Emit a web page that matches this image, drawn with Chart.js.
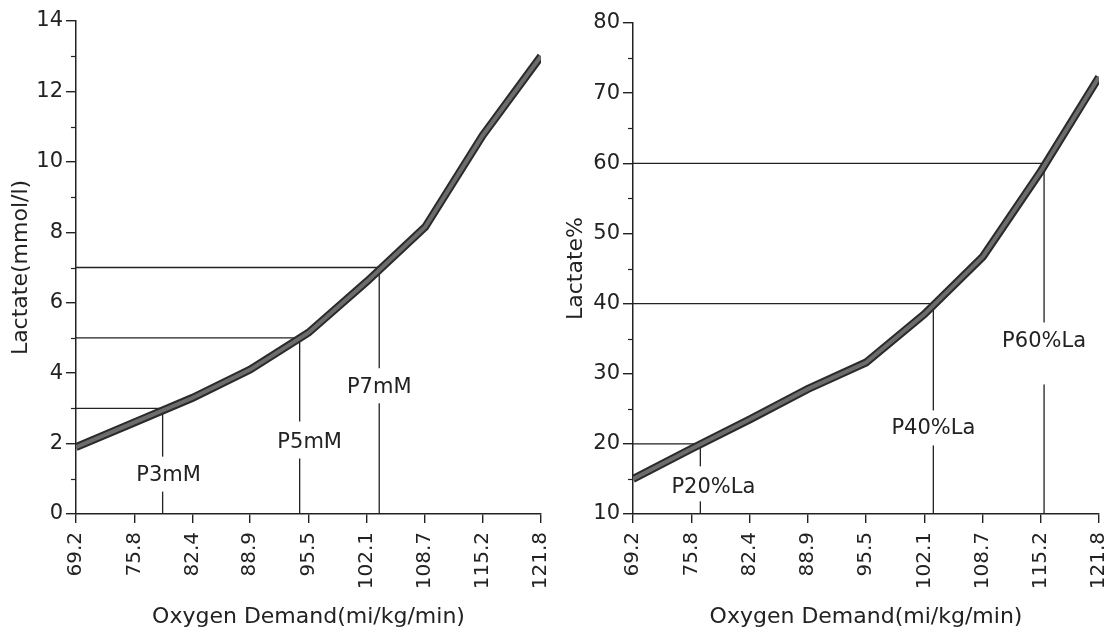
<!DOCTYPE html>
<html>
<head>
<meta charset="utf-8">
<script src="https://cdn.jsdelivr.net/npm/chart.js@4.4.1/dist/chart.umd.min.js"></script>
<style>
  html, body { margin: 0; padding: 0; background: #fff; }
  #wrap { position: relative; width: 1114px; height: 628px; }
  #leftBox { position: absolute; left: 0; top: 0; }
  #rightBox { position: absolute; left: 557px; top: 0; }
</style>
</head>
<body>
<div id="wrap">
  <div id="leftBox"><canvas id="chartLeft" width="557" height="628"></canvas></div>
  <div id="rightBox"><canvas id="chartRight" width="557" height="628"></canvas></div>
</div>
<script>
const xTicks = [69.2, 75.8, 82.4, 88.9, 95.5, 102.1, 108.7, 115.2, 121.8];
const xTickLabels = ["69.2", "75.8", "82.4", "88.9", "95.5", "102.1", "108.7", "115.2", "121.8"];

// left panel: lactate in mmol/l
const lactate = [1.9, 2.6, 3.3, 4.1, 5.15, 6.6, 8.15, 10.75, 13.0];
const mmolLevels = [3, 5, 7];
const mmolPoints = [79.0, 94.5, 103.5];
const mmolLabels = ["P3mM", "P5mM", "P7mM"];

// right panel: lactate %
const lactatePct = [15.0, 19.3, 23.5, 27.8, 31.6, 38.5, 46.7, 58.8, 72.3];
const pctLevels = [20, 40, 60];
const pctPoints = [76.8, 103.1, 115.6];
const pctLabels = ["P20%La", "P40%La", "P60%La"];

Chart.defaults.font.family = "'DejaVu Sans', sans-serif";
Chart.defaults.color = "#222";

const ink = "#222";

// short unlabeled ticks between the major ones
const minorTicks = {
  id: "minorTicks",
  afterDraw(chart, args, opts) {
    const y = chart.scales.y;
    const ctx = chart.ctx;
    ctx.save();
    ctx.strokeStyle = ink;
    ctx.lineWidth = 1.2;
    for (let v = y.min + opts.step; v < y.max; v += opts.step * 2) {
      const py = Math.round(y.getPixelForValue(v)) + 0.5;
      ctx.beginPath();
      ctx.moveTo(y.right - 5, py);
      ctx.lineTo(y.right, py);
      ctx.stroke();
    }
    ctx.restore();
  }
};

// text on the vertical marker lines, line broken around the text
const markerText = {
  id: "markerText",
  afterDatasetsDraw(chart, args, opts) {
    const xs = chart.scales.x, ys = chart.scales.y;
    const ctx = chart.ctx;
    ctx.save();
    ctx.font = "21px 'DejaVu Sans'";
    ctx.textAlign = "center";
    ctx.textBaseline = "middle";
    opts.items.forEach(it => {
      const px = xs.getPixelForValue(it.at);
      const py = ys.getPixelForValue(it.y);
      ctx.fillStyle = "#fff";
      ctx.fillRect(px - 4, py + it.gap[0], 8, it.gap[1] - it.gap[0]);
      ctx.fillStyle = ink;
      ctx.fillText(it.text, px + (it.dx || 0), py);
    });
    ctx.restore();
  }
};

function makeChart(id, cfg) {
  const datasets = [
    { data: cfg.values.map((v, i) => ({ x: xTicks[i], y: v })), borderColor: "#6c6c6c", borderWidth: 4 },
    { data: cfg.values.map((v, i) => ({ x: xTicks[i], y: v })), borderColor: "#2a2a2a", borderWidth: 8 }
  ];
  cfg.levels.forEach((lv, i) => {
    datasets.push({
      data: [
        { x: xTicks[0], y: lv },
        { x: cfg.points[i], y: lv },
        { x: cfg.points[i], y: cfg.yMin }
      ],
      borderColor: ink,
      borderWidth: 1.3
    });
  });

  return new Chart(document.getElementById(id), {
    type: "line",
    data: { datasets },
    options: {
      responsive: false,
      animation: false,
      events: [],
      elements: { point: { radius: 0 }, line: { tension: 0, fill: false, borderCapStyle: "butt" } },
      layout: { padding: { left: 0, top: cfg.top, right: cfg.right, bottom: 0 } },
      plugins: {
        legend: { display: false },
        tooltip: { enabled: false },
        minorTicks: { step: cfg.minor },
        markerText: { items: cfg.marks }
      },
      scales: {
        x: {
          type: "linear",
          min: xTicks[0],
          max: xTicks[xTicks.length - 1],
          afterBuildTicks: s => { s.ticks = xTicks.map(v => ({ value: v })); },
          afterFit: s => { s.height = 114; s.paddingLeft = 0; s.paddingRight = 0; },
          ticks: {
            autoSkip: false,
            maxRotation: 90,
            minRotation: 90,
            padding: 9,
            font: { size: 20 },
            callback: (v, i) => xTickLabels[i]
          },
          grid: { drawOnChartArea: false, tickLength: 9, color: ink, lineWidth: 1.4 },
          border: { color: ink, width: 1.5 },
          title: {
            display: true,
            text: "Oxygen Demand(mi/kg/min)",
            font: { size: 22, lineHeight: 1 },
            padding: { top: 0, bottom: 0 }
          }
        },
        y: {
          min: cfg.yMin,
          max: cfg.yMax,
          afterFit: s => { s.width = 76; s.paddingTop = 0; s.paddingBottom = 0; },
          ticks: { stepSize: cfg.step, padding: 3, font: { size: 21 } },
          grid: { drawOnChartArea: false, tickLength: 10, color: ink, lineWidth: 1.4 },
          border: { color: ink, width: 1.5 },
          title: {
            display: true,
            text: cfg.yTitle,
            font: { size: 22, lineHeight: 1.2 },
            padding: { top: cfg.titleOffset, bottom: 0 }
          }
        }
      }
    },
    plugins: [minorTicks, markerText]
  });
}

makeChart("chartLeft", {
  values: lactate,
  levels: mmolLevels,
  points: mmolPoints,
  yMin: 0, yMax: 14, step: 2, minor: 1,
  yTitle: "Lactate(mmol/l)",
  top: 21, right: 16, titleOffset: 8,
  marks: mmolLabels.map((t, i) => ({
    text: t, at: mmolPoints[i],
    y: [1.09, 2.03, 3.6][i],
    dx: [6, 10, 0][i],
    gap: [[-19, 16], [-21, 16], [-19, 16]][i]
  }))
});

makeChart("chartRight", {
  values: lactatePct,
  levels: pctLevels,
  points: pctPoints,
  yMin: 10, yMax: 80, step: 10, minor: 5,
  yTitle: "Lactate%",
  top: 23, right: 15, titleOffset: 6,
  marks: pctLabels.map((t, i) => ({
    text: t, at: pctPoints[i],
    y: [13.8, 22.2, 34.6][i],
    dx: [13, 0, 0][i],
    gap: [[-21, 14], [-18, 17], [-19, 43]][i]
  }))
});
</script>
</body>
</html>
